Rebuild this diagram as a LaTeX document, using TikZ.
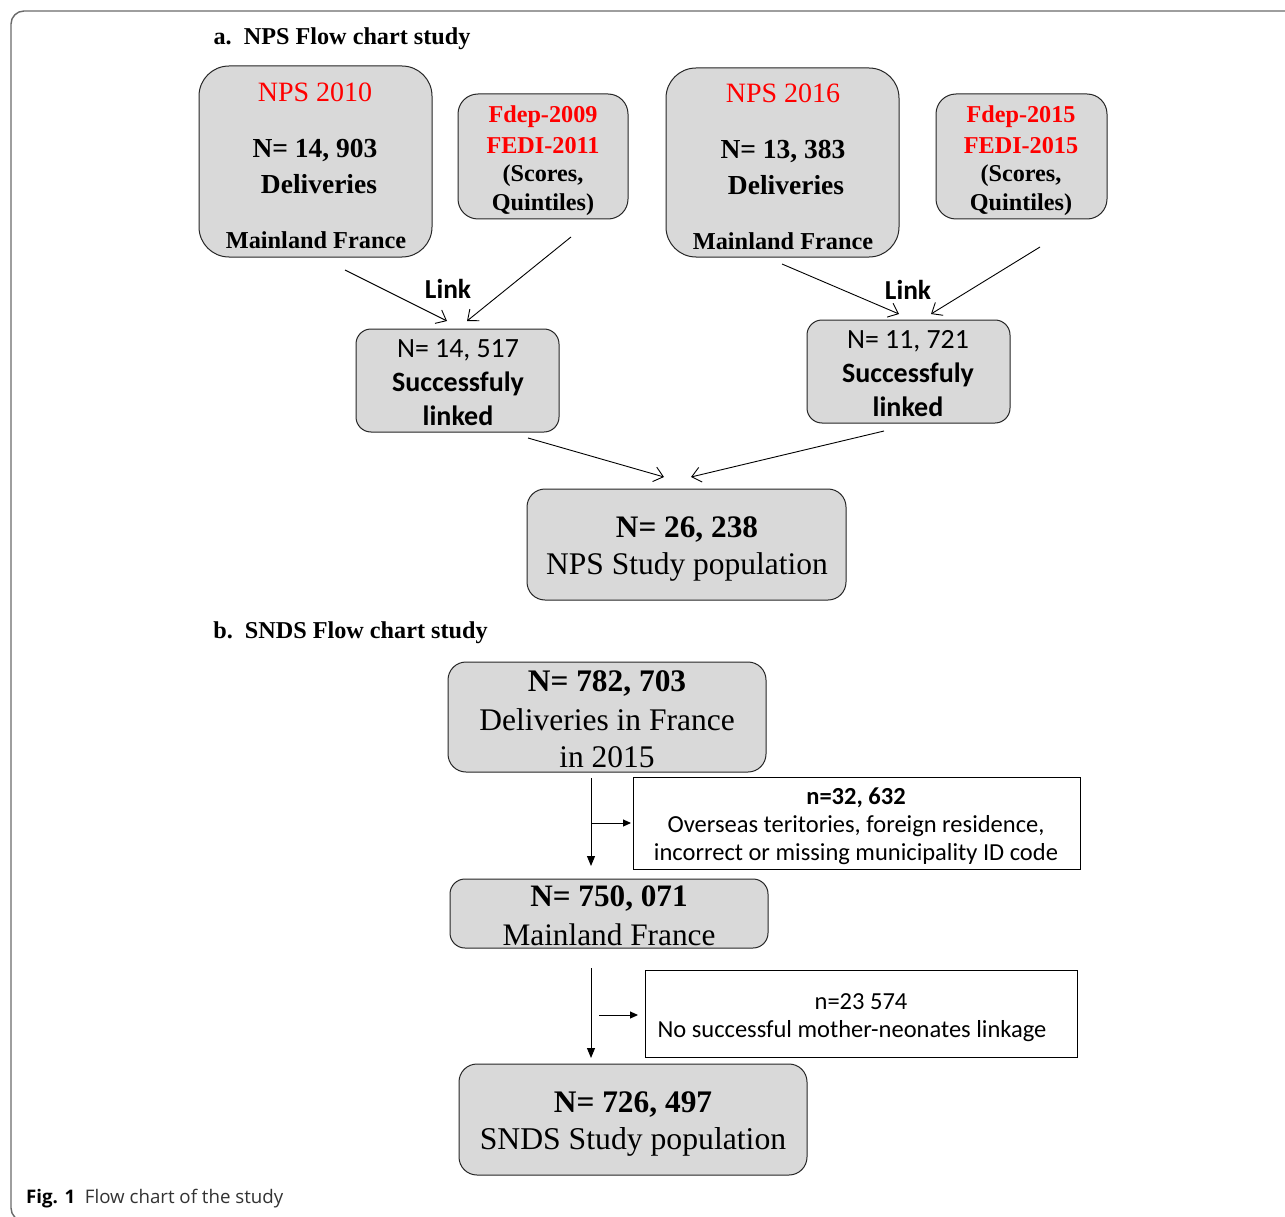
\documentclass[tikz,border=0pt]{standalone}
\usepackage{fontspec}
\setmainfont{Liberation Serif}
\newfontfamily\calfont{Carlito}
\newfontfamily\capfont{Open Sans}
\usetikzlibrary{arrows.meta}
\definecolor{boxgray}{HTML}{D9D9D9}
\definecolor{nred}{HTML}{FF0000}
\definecolor{framegray}{HTML}{6A6A6A}
\begin{document}
\begin{tikzpicture}[x=1pt,y=-1pt,
  gbox/.style={draw=black!85, fill=boxgray, line width=1pt, rounded corners=#1, inner sep=0pt},
  gbox/.default=20pt,
  wbox/.style={draw=black, fill=white, line width=0.9pt, inner sep=0pt},
  t/.style={inner sep=0pt, anchor=center, yshift=-2.5pt},
  arr/.style={-{Straight Barb[length=9pt,width=15pt]}, line width=0.9pt},
  farr/.style={-{Triangle[length=10pt,width=8pt]}, line width=1pt},
  sarr/.style={-{Triangle[length=8pt,width=7pt]}, line width=1pt}]
\useasboundingbox (0,0) rectangle (1285,1217);
\clip (0,0) rectangle (1285,1217);
\fill[white] (0,0) rectangle (1285,1217);
% outer frame
\draw[framegray, line width=1.4pt, rounded corners=13pt] (1300,11) -- (11,11) -- (11,1221) -- (1300,1221);

% ---------- a. NPS ----------
\node[t, font=\fontsize{24.2}{28}\selectfont\bfseries] (titleA) at (342,36) {a.\ \ NPS Flow chart study};

\node[gbox=30pt, minimum width=233pt, minimum height=191pt] (nps10) at (315.5,161.5) {};
\node[t, text=nred, font=\fontsize{28}{32}\selectfont] (nps10a) at (315,90) {NPS 2010};
\node[t, font=\fontsize{27.5}{32}\selectfont\bfseries] (nps10b) at (315,148) {N= 14, 903};
\node[t, font=\fontsize{27.5}{32}\selectfont\bfseries] (nps10c) at (319,182) {Deliveries};
\node[t, font=\fontsize{24.3}{28}\selectfont\bfseries] (nps10d) at (316,238) {Mainland France};

\node[gbox=20pt, minimum width=170pt, minimum height=125pt] (fd09) at (543,156.5) {};
\node[t, text=nred, font=\fontsize{24.2}{28}\selectfont\bfseries] (fd09a) at (543,114) {Fdep-2009};
\node[t, text=nred, font=\fontsize{24.2}{28}\selectfont\bfseries] (fd09b) at (543,143) {FEDI-2011};
\node[t, font=\fontsize{24.2}{28}\selectfont\bfseries] (fd09c) at (543,173) {(Scores,};
\node[t, font=\fontsize{24.2}{28}\selectfont\bfseries] (fd09d) at (543,202) {Quintiles)};

\node[gbox=30pt, minimum width=233pt, minimum height=189pt] (nps16) at (782.5,162.5) {};
\node[t, text=nred, font=\fontsize{28}{32}\selectfont] (nps16a) at (783,91) {NPS 2016};
\node[t, font=\fontsize{27.5}{32}\selectfont\bfseries] (nps16b) at (783,149) {N= 13, 383};
\node[t, font=\fontsize{27.5}{32}\selectfont\bfseries] (nps16c) at (786,183) {Deliveries};
\node[t, font=\fontsize{24.3}{28}\selectfont\bfseries] (nps16d) at (783,239) {Mainland France};

\node[gbox=20pt, minimum width=171pt, minimum height=125pt] (fd15) at (1021.5,156.5) {};
\node[t, text=nred, font=\fontsize{24.2}{28}\selectfont\bfseries] (fd15a) at (1021,114) {Fdep-2015};
\node[t, text=nred, font=\fontsize{24.2}{28}\selectfont\bfseries] (fd15b) at (1021,143) {FEDI-2015};
\node[t, font=\fontsize{24.2}{28}\selectfont\bfseries] (fd15c) at (1021,173) {(Scores,};
\node[t, font=\fontsize{24.2}{28}\selectfont\bfseries] (fd15d) at (1021,202) {Quintiles)};

% link boxes
\node[gbox=15pt, minimum width=203pt, minimum height=103pt] (lk1) at (457.5,380.5) {};
\node[t, font=\calfont\fontsize{27.8}{30}\selectfont] (lk1a) at (458,348) {N= 14, 517};
\node[t, font=\calfont\fontsize{28}{30}\selectfont\bfseries] (lk1b) at (458,381) {Successfuly};
\node[t, font=\calfont\fontsize{28}{30}\selectfont\bfseries] (lk1c) at (458,413) {linked};

\node[gbox=15pt, minimum width=203pt, minimum height=103pt] (lk2) at (908.5,371.5) {};
\node[t, font=\calfont\fontsize{27.8}{30}\selectfont] (lk2a) at (908,339) {N= 11, 721};
\node[t, font=\calfont\fontsize{28}{30}\selectfont\bfseries] (lk2b) at (908,372) {Successfuly};
\node[t, font=\calfont\fontsize{28}{30}\selectfont\bfseries] (lk2c) at (908,404) {linked};

\node[t, yshift=2.5pt, font=\calfont\fontsize{27.4}{30}\selectfont\bfseries] (link1) at (448,289) {Link};
\node[t, yshift=2.5pt, font=\calfont\fontsize{27.4}{30}\selectfont\bfseries] (link2) at (908,290) {Link};

% NPS study pop
\node[gbox=18pt, minimum width=319pt, minimum height=111pt] (npspop) at (686.5,544.5) {};
\node[t, font=\fontsize{31.3}{36}\selectfont\bfseries] (npspopa) at (687,527) {N= 26, 238};
\node[t, font=\fontsize{31.5}{36}\selectfont] (npspopb) at (687,564) {NPS Study population};

% arrow coordinates
\coordinate (a1s) at (345,270); \coordinate (a1e) at (447,321);
\coordinate (a2s) at (571,237); \coordinate (a2e) at (467,321);
\coordinate (a3s) at (782,264); \coordinate (a3e) at (899,314);
\coordinate (a4s) at (1040,247); \coordinate (a4e) at (931,314);
\coordinate (a5s) at (528,438); \coordinate (a5e) at (664,477);
\coordinate (a6s) at (884,431); \coordinate (a6e) at (691,477);
\draw[arr] (a1s) -- (a1e);
\draw[arr] (a2s) -- (a2e);
\draw[arr] (a3s) -- (a3e);
\draw[arr] (a4s) -- (a4e);
\draw[arr] (a5s) -- (a5e);
\draw[arr] (a6s) -- (a6e);

% ---------- b. SNDS ----------
\node[t, font=\fontsize{24.2}{28}\selectfont\bfseries] (titleB) at (350.5,630) {b.\ \ SNDS Flow chart study};

\node[gbox=18pt, minimum width=318pt, minimum height=110pt] (s1) at (607,717) {};
\node[t, font=\fontsize{31.4}{36}\selectfont\bfseries] (s1a) at (607,681) {N= 782, 703};
\node[t, font=\fontsize{31.5}{36}\selectfont] (s1b) at (607,717) {Deliveries in France};
\node[t, font=\fontsize{31.5}{36}\selectfont] (s1c) at (607,755) {in 2015};

\node[wbox, minimum width=447pt, minimum height=92pt] (e1) at (856.5,823) {};
\node[t, font=\calfont\fontsize{24.5}{28}\selectfont\bfseries] (e1a) at (856,795) {n=32, 632};
\node[t, font=\calfont\fontsize{24.5}{28}\selectfont] (e1b) at (856,824) {Overseas teritories, foreign residence,};
\node[t, font=\calfont\fontsize{24.5}{28}\selectfont] (e1c) at (856,852) {incorrect or missing municipality ID code};

\node[gbox=15pt, minimum width=318pt, minimum height=69pt] (s2) at (609,913.5) {};
\node[t, font=\fontsize{31.2}{36}\selectfont\bfseries] (s2a) at (609,896) {N= 750, 071};
\node[t, font=\fontsize{31.3}{36}\selectfont] (s2b) at (609,932) {Mainland France};

\node[wbox, minimum width=432pt, minimum height=87pt] (e2) at (861,1013.5) {};
\node[t, font=\calfont\fontsize{24.5}{28}\selectfont] (e2a) at (861,999) {n=23 574};
\node[t, font=\calfont\fontsize{24.5}{28}\selectfont] (e2b) at (852,1029) {No successful mother-neonates linkage};

\node[gbox=18pt, minimum width=348pt, minimum height=111pt] (s3) at (633,1119.5) {};
\node[t, font=\fontsize{31.4}{36}\selectfont\bfseries] (s3a) at (633,1102) {N= 726, 497};
\node[t, font=\fontsize{31.7}{36}\selectfont] (s3b) at (633,1139) {SNDS Study population};

\coordinate (v1s) at (591,778); \coordinate (v1e) at (591,866);
\coordinate (h1s) at (591,823); \coordinate (h1e) at (631,823);
\coordinate (v2s) at (591,968); \coordinate (v2e) at (591,1058);
\coordinate (h2s) at (599,1015); \coordinate (h2e) at (638,1015);
\draw[farr] (v1s) -- (v1e);
\draw[sarr] (h1s) -- (h1e);
\draw[farr] (v2s) -- (v2e);
\draw[sarr] (h2s) -- (h2e);

% caption
\node[t, anchor=west, font=\capfont\fontsize{18.7}{22}\selectfont] (cap) at (26,1196) {\textbf{Fig. 1}\ \ \textcolor{black!80}{Flow chart of the study}};
\end{tikzpicture}
\end{document}
